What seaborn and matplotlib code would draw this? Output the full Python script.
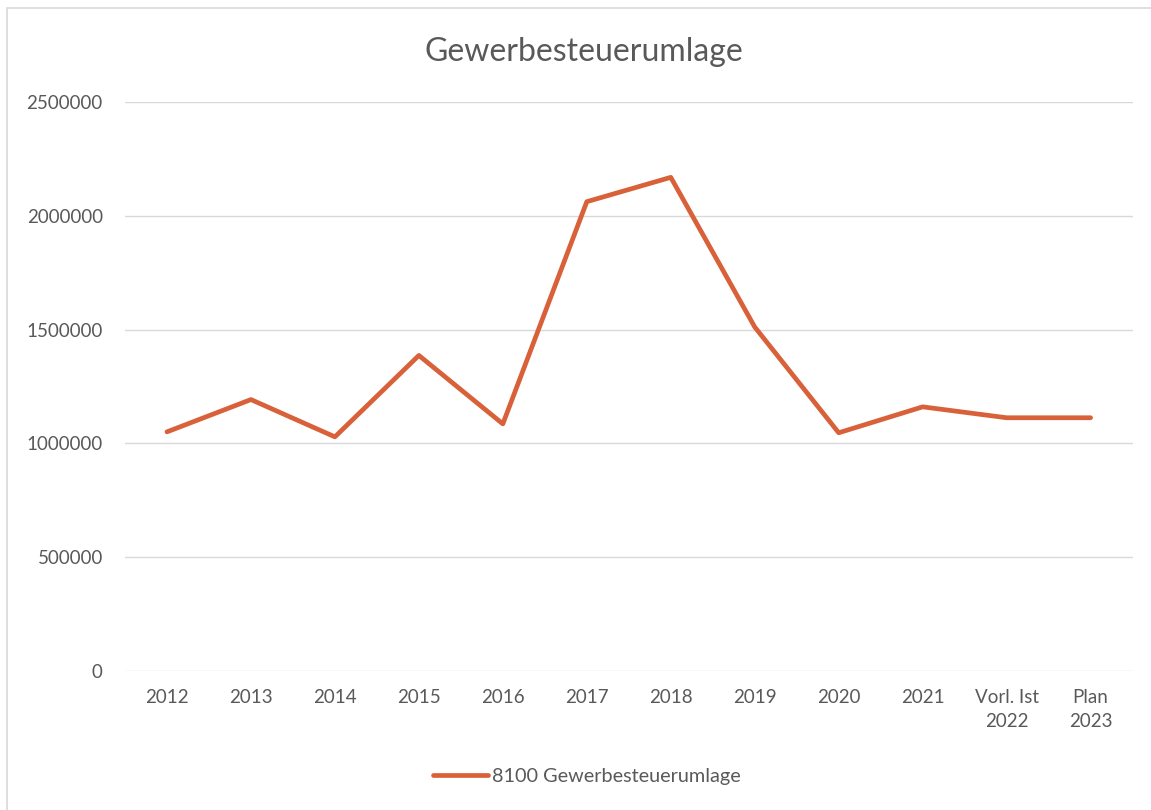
import matplotlib
matplotlib.use('Agg')
import matplotlib.pyplot as plt
import matplotlib.ticker as mticker
from matplotlib.patches import Rectangle
import seaborn as sns
import pandas as pd

categories = ['2012', '2013', '2014', '2015', '2016', '2017', '2018', '2019',
              '2020', '2021', 'Vorl. Ist\n2022', 'Plan\n2023']
values = [1050000, 1192000, 1028000, 1386000, 1085000, 2062000, 2169000,
          1511000, 1046000, 1160000, 1112000, 1112000]
series_name = '8100 Gewerbesteuerumlage'
y_ticks = [0, 500000, 1000000, 1500000, 2000000, 2500000]

sns.set_theme(style='white')
plt.rcParams['font.family'] = ['Lato', 'DejaVu Sans']

df = pd.DataFrame({'Jahr': categories, 'Wert': values, 'Serie': series_name})

fig = plt.figure(figsize=(11.51, 8.1), dpi=100)
ax = fig.add_axes([0.1086, 0.172, 0.8754, 0.702])

sns.lineplot(data=df, x='Jahr', y='Wert', hue='Serie', palette=['#D8613A'],
             linewidth=3.4, sort=False, ax=ax)

ax.set_xlim(-0.5, len(categories) - 0.5)
ax.set_ylim(0, 2500000)
ax.set_yticks(y_ticks)
ax.yaxis.set_major_formatter(mticker.FuncFormatter(lambda v, p: f'{int(v)}'))
ax.grid(axis='y', color='#D9D9D9', linewidth=1)
ax.set_axisbelow(True)
for s in ax.spines.values():
    s.set_visible(False)
ax.tick_params(axis='both', length=0, labelsize=13.5, labelcolor='#595959')
ax.tick_params(axis='x', pad=13)
ax.tick_params(axis='y', pad=16)
for lbl in ax.get_xticklabels():
    lbl.set_linespacing(1.55)
ax.set_xlabel('')
ax.set_ylabel('')

fig.text(0.507, 0.936, 'Gewerbesteuerumlage', ha='center', va='center',
         fontsize=23, color='#595959')

handles, labels = ax.get_legend_handles_labels()
ax.legend_.remove()
fig.legend(handles, labels, loc='center', bbox_to_anchor=(0.51, 0.041),
           frameon=False, fontsize=14.3, labelcolor='#595959',
           handlelength=2.8, handletextpad=0.2)

fig.patches.append(Rectangle((0.006, -0.01), 1.1, 1.0, transform=fig.transFigure,
                             fill=False, edgecolor='#D9D9D9', linewidth=1.2))

fig.savefig('out.png', dpi=100)
